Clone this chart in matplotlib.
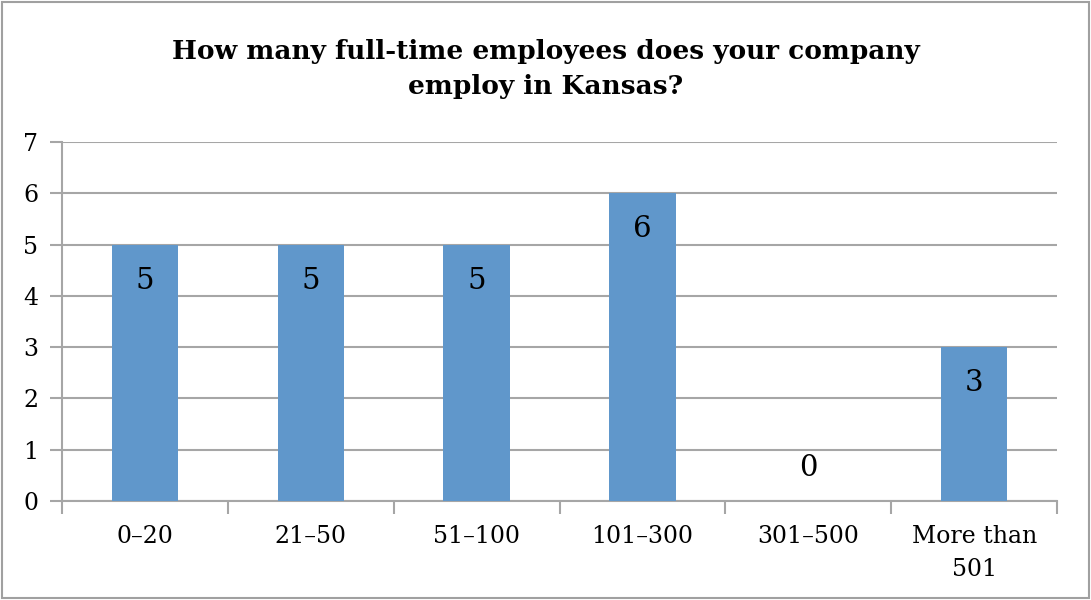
import numpy as np
import matplotlib.pyplot as plt
from matplotlib.patches import Rectangle

categories = ["0–20", "21–50", "51–100", "101–300", "301–500", "More than\n501"]
counts = [5, 5, 5, 6, 0, 3]
title = "How many full-time employees does your company\nemploy in Kansas?"

plt.rcParams["font.family"] = ["DejaVu Serif"]

fig = plt.figure(figsize=(10.91, 6.0), dpi=100)
ax = fig.add_axes([0.0568, 0.165, 0.9121, 0.5983])

grid_c = "#a6a6a6"
bar_c = "#6097cb"

x = np.arange(len(categories))
ax.bar(x, counts, width=0.4, color=bar_c, zorder=3)

ax.set_xlim(-0.5, len(categories) - 0.5)
ax.set_ylim(0, 7)
ax.set_yticks(range(0, 8))
ax.yaxis.grid(True, color=grid_c, linewidth=1.5, zorder=0)

# x ticks sit on category boundaries, labels centred under bars
ax.set_xticks(np.arange(-0.5, len(categories)), minor=False)
ax.set_xticklabels([])
ax.set_xticks(x, minor=True)
ax.set_xticklabels(categories, minor=True, fontsize=17, linespacing=1.6)
ax.tick_params(axis="x", which="minor", length=0, pad=17)
ax.tick_params(axis="x", which="major", length=9, width=1.5, color=grid_c, direction="out")
ax.tick_params(axis="y", length=9, width=1.5, color=grid_c, labelsize=17, pad=8)

for s in ["top", "right"]:
    ax.spines[s].set_visible(False)
for s in ["left", "bottom"]:
    ax.spines[s].set_color(grid_c)
    ax.spines[s].set_linewidth(1.5)

for xi, v in zip(x, counts):
    off = -26 if v > 0 else 24
    ax.annotate(str(v), (xi, v), xytext=(0, off), textcoords="offset points",
                ha="center", va="center", fontsize=21, zorder=4)

fig.text(0.5, 0.885, title, ha="center", va="center", fontsize=19,
         fontweight="bold", linespacing=1.5)

fig.patches.append(Rectangle((0.002, 0.004), 0.996, 0.992, transform=fig.transFigure,
                             fill=False, edgecolor="#a0a0a0", linewidth=1.5))

fig.savefig("out.png", dpi=100)
